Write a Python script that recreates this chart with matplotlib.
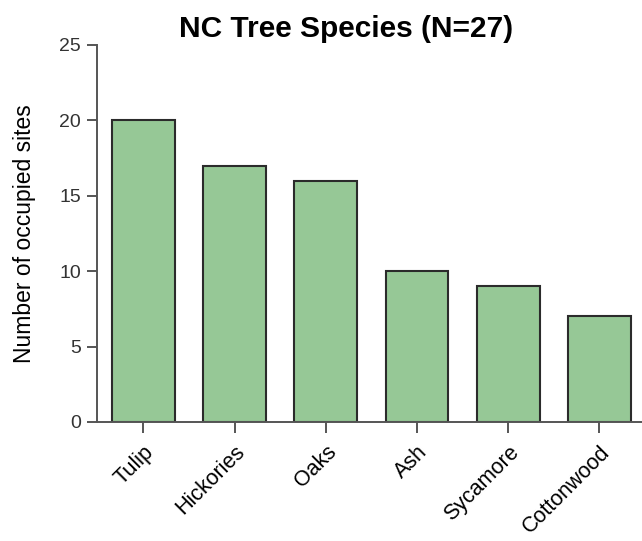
import matplotlib.pyplot as plt

plt.rcParams['font.family'] = ['Liberation Sans', 'DejaVu Sans']

species = ['Tulip', 'Hickories', 'Oaks', 'Ash', 'Sycamore', 'Cottonwood']
sites = [20, 17, 16, 10, 9, 7]

fig = plt.figure(figsize=(6.42, 5.41), dpi=100)
ax = fig.add_axes([0.151, 0.22, 0.855, 0.697])

x = range(len(species))
ax.bar(x, sites, width=0.69, color='#96c896', edgecolor='#2b2b2b', linewidth=1.5)

ax.set_xlim(-0.51, 5.51)
ax.set_ylim(0, 25)
ax.set_yticks([0, 5, 10, 15, 20, 25])
ax.set_xticks(list(x))
ax.set_xticklabels(species, rotation=45, ha='right', rotation_mode='anchor', fontsize=15.5)

for side in ['top', 'right']:
    ax.spines[side].set_visible(False)
for side in ['left', 'bottom']:
    ax.spines[side].set_color('#555555')
    ax.spines[side].set_linewidth(1.4)

ax.tick_params(axis='y', direction='out', length=7.5, width=1.4, color='#555555',
               labelsize=14, labelcolor='#333333', pad=4)
ax.tick_params(axis='x', direction='out', length=8, width=1.4, color='#555555', pad=6)

ax.set_ylabel('Number of occupied sites', fontsize=16.5, labelpad=17)
ax.set_title('NC Tree Species (N=27)', fontsize=21.5, fontweight='bold', pad=6, x=0.454)

fig.savefig('out.png', dpi=100)
